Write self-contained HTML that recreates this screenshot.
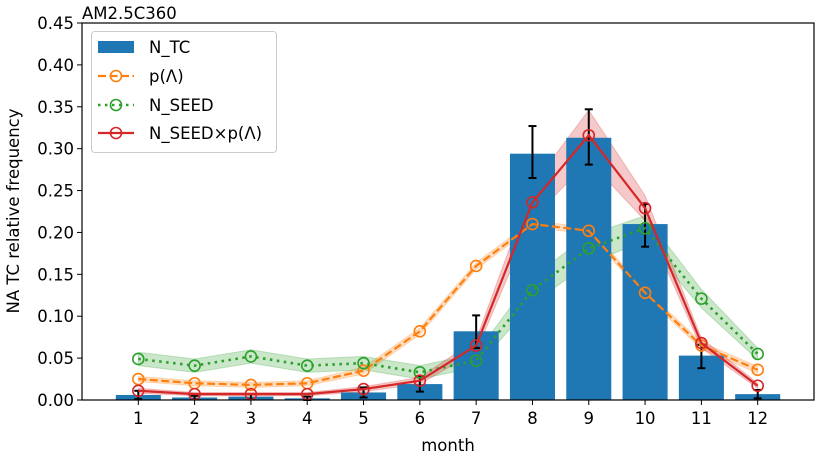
<!DOCTYPE html>
<html><head><meta charset="utf-8"><style>
body{margin:0;background:#fff;}
svg text{font-family:"DejaVu Sans","Liberation Sans",sans-serif;}
</style></head><body>
<svg id="chart" width="819" height="460" xmlns="http://www.w3.org/2000/svg">
<g id="bands"></g><g id="bars"></g><g id="lines"></g><g id="axes"></g>
</svg>
<script>
const months=[1,2,3,4,5,6,7,8,9,10,11,12];
const ntc=[0.006,0.003,0.004,0.002,0.009,0.019,0.082,0.294,0.313,0.210,0.053,0.007];
const ntcLo=[0.001,0.001,0.001,0.000,0.003,0.010,0.062,0.265,0.281,0.183,0.038,0.002];
const ntcHi=[0.011,0.005,0.007,0.004,0.015,0.028,0.101,0.327,0.347,0.234,0.066,0.012];
const pL=[0.025,0.020,0.018,0.020,0.035,0.082,0.160,0.210,0.202,0.128,0.065,0.036];
const pLLo=[0.022,0.017,0.015,0.017,0.031,0.078,0.156,0.206,0.198,0.124,0.061,0.032];
const pLHi=[0.028,0.023,0.021,0.023,0.039,0.086,0.164,0.214,0.206,0.132,0.069,0.040];
const seed=[0.049,0.041,0.052,0.041,0.044,0.033,0.047,0.131,0.181,0.205,0.121,0.055];
const seedLo=[0.041,0.033,0.044,0.033,0.036,0.025,0.039,0.115,0.163,0.190,0.110,0.048];
const seedHi=[0.057,0.049,0.060,0.049,0.052,0.041,0.055,0.147,0.197,0.220,0.132,0.062];
const prod=[0.011,0.007,0.007,0.007,0.013,0.023,0.065,0.236,0.316,0.229,0.068,0.017];
const prodLo=[0.008,0.005,0.005,0.005,0.010,0.019,0.058,0.216,0.286,0.214,0.062,0.014];
const prodHi=[0.014,0.009,0.009,0.009,0.016,0.027,0.072,0.256,0.346,0.244,0.074,0.020];
const yTicks=[0,0.05,0.10,0.15,0.20,0.25,0.30,0.35,0.40,0.45];

const NS="http://www.w3.org/2000/svg";
const L=82,R=814,T=23,B=400;
const FS=16.5;
const X=m=>L+(m-0)/13*(R-L);
const Y=v=>B-v/0.45*(B-T);
function el(tag,attrs,parent,txt){const e=document.createElementNS(NS,tag);for(const k in attrs)e.setAttribute(k,attrs[k]);if(txt!==undefined)e.textContent=txt;parent.appendChild(e);return e;}
const bands=document.getElementById('bands'),bars=document.getElementById('bars'),lines=document.getElementById('lines'),axes=document.getElementById('axes');
const bw=(R-L)/13*0.8;
months.forEach((m,i)=>{
 const b=el('rect',{x:X(m)-bw/2,y:Y(ntc[i]),width:bw,height:B-Y(ntc[i]),fill:'#1f77b4'},bars);
 
 
 const g=el('g',{stroke:'#000','stroke-width':2},bars);
 
 
 el('line',{x1:X(m),x2:X(m),y1:Y(ntcLo[i]),y2:Y(ntcHi[i])},g);
 el('line',{x1:X(m)-4,x2:X(m)+4,y1:Y(ntcLo[i]),y2:Y(ntcLo[i])},g);
 el('line',{x1:X(m)-4,x2:X(m)+4,y1:Y(ntcHi[i]),y2:Y(ntcHi[i])},g);
});
function band(lo,hi,color,name){
 let d=months.map((m,i)=>(i?'L':'M')+X(m)+','+Y(hi[i])).join('');
 d+=months.slice().reverse().map((m,j)=>'L'+X(m)+','+Y(lo[11-j])).join('')+'Z';
 const p=el('path',{d:d,fill:color,'fill-opacity':0.25,stroke:color,'stroke-opacity':0.25},bands);
 
 
}
band(pLLo,pLHi,'#ff7f0e','p-lambda-band');
band(seedLo,seedHi,'#2ca02c','n-seed-band');
function series(vals,color,dash,name,w){
 const g=el('g',{},lines);
 
 
 const a={points:months.map((m,i)=>X(m)+','+Y(vals[i])).join(' '),fill:'none',stroke:color,'stroke-width':w||2.2};
 if(dash)a['stroke-dasharray']=dash;
 el('polyline',a,g);
 months.forEach((m,i)=>el('circle',{cx:X(m),cy:Y(vals[i]),r:5.5,fill:'none',stroke:color,'stroke-width':1.6},g));
}
series(pL,'#ff7f0e','8 3.5','p-lambda-line');
series(seed,'#2ca02c','2.5 4.5','n-seed-line',2.6);
band(prodLo,prodHi,'#d62728','product-band');
series(prod,'#d62728','','product-line');
el('rect',{x:L,y:T,width:R-L,height:B-T,fill:'none',stroke:'#000','stroke-width':1.2},axes);
yTicks.forEach(v=>{
 el('line',{x1:L-5,x2:L,y1:Y(v),y2:Y(v),stroke:'#000'},axes);
 const t=el('text',{x:L-8,y:Y(v)+6,'text-anchor':'end','font-size':FS},axes,v.toFixed(2));
 
 
});
months.forEach(m=>{
 el('line',{x1:X(m),x2:X(m),y1:B,y2:B+5,stroke:'#000'},axes);
 const t=el('text',{x:X(m),y:B+24,'text-anchor':'middle','font-size':FS},axes,String(m));
 
 
});
</script>
<svg style="position:absolute;left:0;top:0" width="819" height="460" xmlns="http://www.w3.org/2000/svg">
<text x="448" y="451" text-anchor="middle" font-size="16.5">month</text>
<text transform="translate(19,211) rotate(-90)" text-anchor="middle" font-size="16.5">NA TC relative frequency</text>
<text x="82" y="19" font-size="16.5">AM2.5C360</text>
<g>
<rect x="91.5" y="31.5" width="185" height="121" rx="3" fill="#fff" fill-opacity="0.8" stroke="#ccc"/>
<rect x="98" y="41" width="36" height="12" fill="#1f77b4"/>
<text x="149" y="53" font-size="16.5">N_TC</text>
<line x1="98" x2="134" y1="76" y2="76" stroke="#ff7f0e" stroke-width="2.2" stroke-dasharray="8 3.5"/>
<circle cx="116" cy="76" r="5.5" fill="none" stroke="#ff7f0e" stroke-width="1.6"/>
<text x="149" y="82" font-size="16.5">p(Λ)</text>
<line x1="98" x2="134" y1="105" y2="105" stroke="#2ca02c" stroke-width="2.6" stroke-dasharray="2.5 4.5"/>
<circle cx="116" cy="105" r="5.5" fill="none" stroke="#2ca02c" stroke-width="1.6"/>
<text x="149" y="111" font-size="16.5">N_SEED</text>
<line x1="98" x2="134" y1="133" y2="133" stroke="#d62728" stroke-width="2.2"/>
<circle cx="116" cy="133" r="5.5" fill="none" stroke="#d62728" stroke-width="1.6"/>
<text x="149" y="139" font-size="16.5">N_SEED×p(Λ)</text>
</g>
</svg>
</body></html>
